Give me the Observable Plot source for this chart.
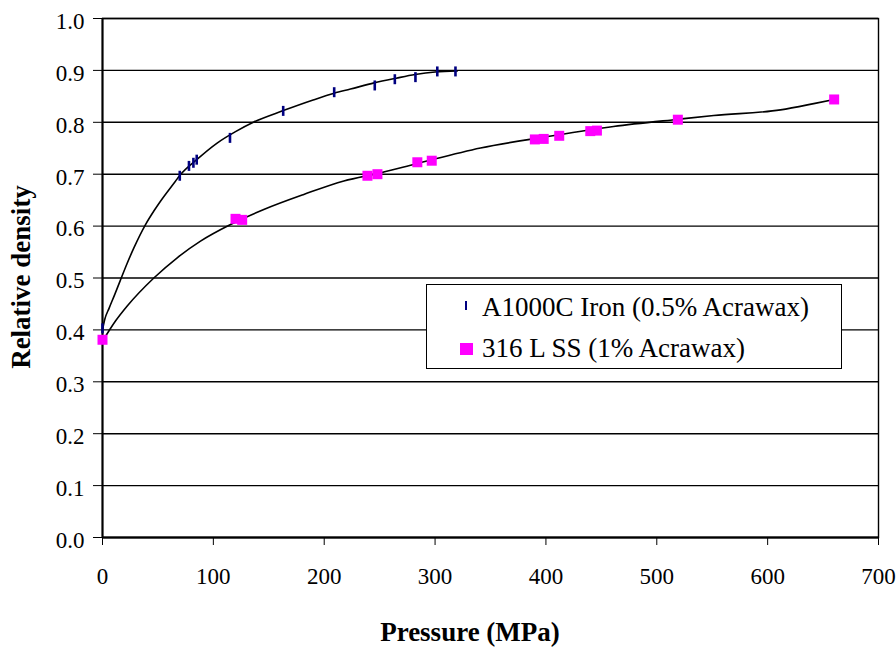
<!DOCTYPE html>
<html>
<head>
<meta charset="utf-8">
<script src="https://cdn.jsdelivr.net/npm/d3@7"></script>
<script src="https://cdn.jsdelivr.net/npm/@observablehq/plot@0.6"></script>
<style>
  html, body { margin: 0; padding: 0; background: #fff; }
  #wrap { position: relative; width: 896px; height: 648px; }
  #legend {
    position: absolute; left: 426px; top: 284px; width: 414px; height: 83px;
    border: 1.5px solid #000; background: #fff;
    font-family: "Liberation Serif", "Times New Roman", serif; font-size: 27px; color: #000;
  }
  .row { position: absolute; left: 0; white-space: nowrap; }
  .row span { position: absolute; left: 55px; top: 0; line-height: 1; }
  .mk { position: absolute; }
</style>
</head>
<body>
<div id="wrap"></div>
<script>
// ---- Data ----
const ironName = "A1000C Iron (0.5% Acrawax)";
const ssName = "316 L SS (1% Acrawax)";
const xTitle = "Pressure (MPa)";
const yTitle = "Relative density";

const ironPressure = [0, 69.7, 78, 82, 85, 115, 163, 209, 245.6, 263.7, 282.3, 302, 318.4];
const ironDensity  = [0.403, 0.697, 0.716, 0.722, 0.728, 0.770, 0.822, 0.858, 0.871, 0.883, 0.887, 0.898, 0.898];

const ssPressure = [0, 120, 126, 239, 248, 284, 297, 390, 398, 412, 440, 446, 519, 660];
const ssDensity  = [0.381, 0.614, 0.612, 0.697, 0.700, 0.723, 0.726, 0.767, 0.768, 0.774, 0.783, 0.784, 0.805, 0.844];

// fitted curves
const ironFitP = [0, 2, 6, 11, 16, 22, 28.3, 38.8, 46.3, 52.3, 65.8, 69.7, 85, 103.4, 120, 136.5, 163, 190, 209, 223.7, 245, 265, 282, 300, 320];
const ironFitD = [0.400, 0.420, 0.442, 0.468, 0.495, 0.527, 0.558, 0.603, 0.629, 0.648, 0.6865, 0.6975, 0.728, 0.760, 0.782, 0.8006, 0.8225, 0.843, 0.856, 0.864, 0.876, 0.885, 0.892, 0.897, 0.899];

const ssFitP = [0, 11.7, 22.3, 46.3, 67.4, 88.4, 115.5, 145.5, 181.6, 217.7, 250.8, 283, 341, 400, 461, 520, 551.4, 611.6, 641.6, 660];
const ssFitD = [0.378, 0.417, 0.446, 0.500, 0.539, 0.571, 0.603, 0.632, 0.661, 0.687, 0.7025, 0.720, 0.7506, 0.772, 0.792, 0.806, 0.813, 0.824, 0.836, 0.844];

const xTicks = [0, 100, 200, 300, 400, 500, 600, 700];
const yTicks = [0, 0.1, 0.2, 0.3, 0.4, 0.5, 0.6, 0.7, 0.8, 0.9, 1.0];

// ---- Tables ----
const iron = ironPressure.map((p, i) => ({p, d: ironDensity[i]}));
const ss = ssPressure.map((p, i) => ({p, d: ssDensity[i]}));
const ironFit = ironFitP.map((p, i) => ({p, d: ironFitD[i]}));
const ssFit = ssFitP.map((p, i) => ({p, d: ssFitD[i]}));

const dash = {draw(ctx, size) { ctx.rect(-1.3, -5, 2.6, 10); }};
const square = {draw(ctx, size) { ctx.rect(-5, -5, 10, 10); }};

const serif = "'Liberation Serif', 'Times New Roman', serif";
const fmt = d3.format(".1f");

const chart = Plot.plot({
  width: 896,
  height: 648,
  marginLeft: 102,
  marginRight: 18,
  marginTop: 18,
  marginBottom: 111,
  style: {fontFamily: serif, fontSize: "23px", color: "#000", background: "#fff"},
  x: {domain: [0, 700], ticks: xTicks, tickSize: 8, tickPadding: 22, label: null},
  y: {domain: [0, 1], ticks: yTicks, tickSize: 9, tickPadding: 9, tickFormat: () => "", label: null},
  marks: [
    Plot.gridY(yTicks, {stroke: "#000", strokeOpacity: 1, strokeWidth: 1.4}),
    Plot.frame({stroke: "#000", strokeWidth: 1.4}),
    Plot.ruleX([0], {stroke: "#000", strokeWidth: 2}),
    Plot.ruleY([0], {stroke: "#000", strokeWidth: 2}),
    Plot.text(yTicks, {y: d => d, text: d => fmt(d), frameAnchor: "left", textAnchor: "end", dx: -18, dy: 3, fontSize: 23, fill: "#000"}),
    Plot.line(ironFit, {x: "p", y: "d", stroke: "#000", strokeWidth: 1.6, curve: "monotone-x"}),
    Plot.line(ssFit, {x: "p", y: "d", stroke: "#000", strokeWidth: 1.6, curve: "monotone-x"}),
    Plot.dot(ss, {x: "p", y: "d", symbol: square, fill: "#FF00FF", stroke: "none"}),
    Plot.dot(iron, {x: "p", y: "d", symbol: dash, fill: "#000080", stroke: "none"})
  ]
});

const svg = d3.select(chart);

// axis titles
svg.append("text")
  .attr("x", 470).attr("y", 641)
  .attr("text-anchor", "middle")
  .attr("font-family", serif).attr("font-size", 27).attr("font-weight", "bold").attr("fill", "#000")
  .text(xTitle);
svg.append("text")
  .attr("transform", "translate(30,277) rotate(-90)")
  .attr("text-anchor", "middle")
  .attr("font-family", serif).attr("font-size", 27).attr("font-weight", "bold").attr("fill", "#000")
  .text(yTitle);

const wrap = document.getElementById("wrap");
wrap.appendChild(chart);

// legend
const legend = document.createElement("div");
legend.id = "legend";
legend.innerHTML = `
  <div class="row" style="top:8.6px;"><div class="mk" style="left:37.5px;top:7.6px;width:2.5px;height:8.5px;background:#000080"></div><span>${ironName}</span></div>
  <div class="row" style="top:49.9px;"><div class="mk" style="left:33.2px;top:8.6px;width:12.5px;height:12px;background:#FF00FF"></div><span>${ssName}</span></div>
`;
wrap.appendChild(legend);
</script>
</body>
</html>
